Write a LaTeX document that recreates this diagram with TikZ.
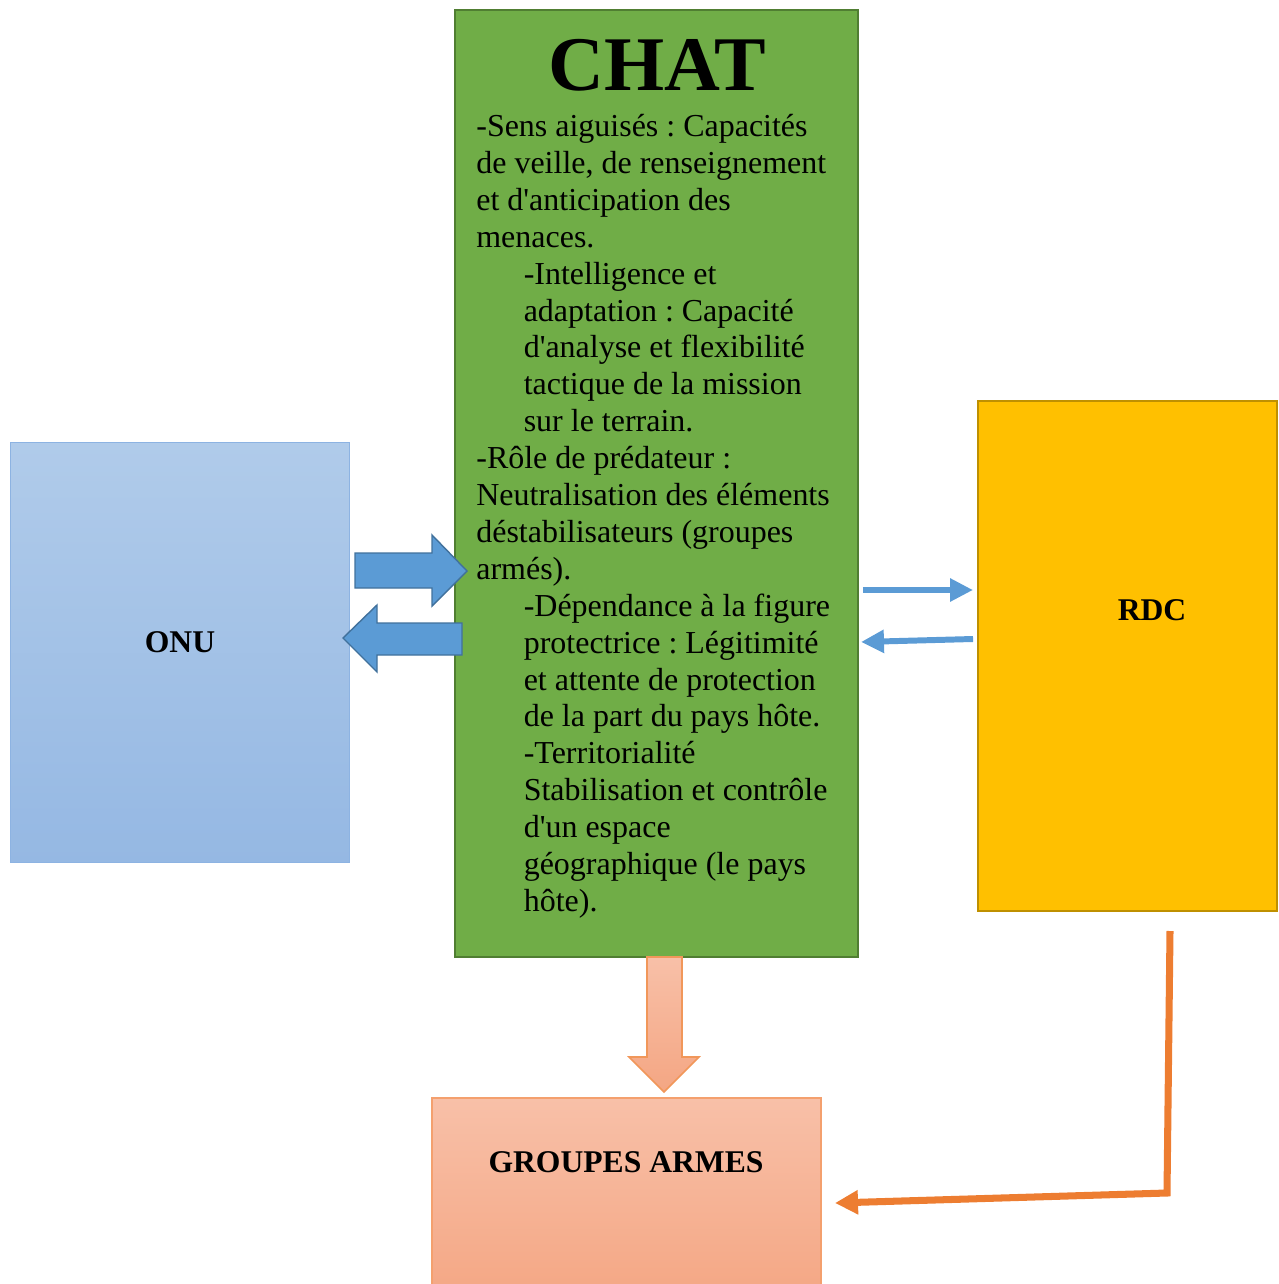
\documentclass[tikz,border=0pt]{standalone}
\usepackage{fontspec}
\setmainfont{Liberation Serif}[Ligatures=TeXOff]
\usetikzlibrary{arrows.meta,positioning}

\definecolor{chatgreen}{RGB}{112,173,71}
\definecolor{chatedge}{RGB}{80,126,50}
\definecolor{onutop}{RGB}{176,203,234}
\definecolor{onubot}{RGB}{149,184,227}
\definecolor{onuedge}{RGB}{141,179,226}
\definecolor{rdcfill}{RGB}{255,192,0}
\definecolor{rdcedge}{RGB}{191,144,0}
\definecolor{gatop}{RGB}{248,192,168}
\definecolor{gabot}{RGB}{244,166,131}
\definecolor{gaedge}{RGB}{244,160,110}
\definecolor{arrowblue}{RGB}{91,155,213}
\definecolor{arrowedge}{RGB}{65,113,156}
\definecolor{linkorange}{RGB}{237,125,49}

\tikzset{
  box/.style={draw, rectangle, inner sep=0pt, outer sep=0pt},
  boxlabel/.style={font=\fontsize{18}{21}\selectfont\bfseries},
  blockarrow/.style={draw=arrowedge, fill=arrowblue, line width=0.8pt, line join=miter},
  thinlink/.style={draw=arrowblue, line width=3.4pt, -{Triangle[length=0.46cm, width=0.44cm]}},
  orangelink/.style={draw=linkorange, line width=4pt, -{Triangle[length=0.46cm, width=0.46cm]}}
}

\begin{document}
\frenchspacing
\begin{tikzpicture}[x=0.02cm, y=-0.02cm]
    \useasboundingbox (0,0) rectangle (1278,1284);

    % boxes
    \node[box, draw=chatedge, fill=chatgreen, line width=1.4pt, minimum width=8.06cm, minimum height=18.94cm] (chat) at (656.5,483.5) {};
    \node[box, draw=onuedge, top color=onutop, bottom color=onubot, line width=0.6pt, minimum width=6.8cm, minimum height=8.42cm] (onu) at (180,652.5) {};
    \node[box, draw=rdcedge, fill=rdcfill, line width=1.2pt, minimum width=5.98cm, minimum height=10.2cm] (rdc) at (1127.5,656) {};
    \node[box, draw=gaedge, top color=gatop, bottom color=gabot, line width=0.9pt, minimum width=7.78cm, minimum height=4.1cm] (ga) at (626.5,1200.5) {};

    % labels
    \node[font=\fontsize{44}{48}\selectfont\bfseries, anchor=base, inner sep=0pt] (title) at (657,91) {CHAT};
    \node[font=\fontsize{18.2}{21}\selectfont, align=left, anchor=north west, inner sep=0pt] (chattext) at (476,114) {%
-Sens aiguisés : Capacités\\
de veille, de renseignement\\
et d'anticipation des\\
menaces.\\
\hspace*{27pt}-Intelligence et\\
\hspace*{27pt}adaptation : Capacité\\
\hspace*{27pt}d'analyse et flexibilité\\
\hspace*{27pt}tactique de la mission\\
\hspace*{27pt}sur le terrain.\\
-Rôle de prédateur :\\
Neutralisation des éléments\\
déstabilisateurs (groupes\\
armés).\\
\hspace*{27pt}-Dépendance à la figure\\
\hspace*{27pt}protectrice : Légitimité\\
\hspace*{27pt}et attente de protection\\
\hspace*{27pt}de la part du pays hôte.\\
\hspace*{27pt}-Territorialité\\
\hspace*{27pt}Stabilisation et contrôle\\
\hspace*{27pt}d'un espace\\
\hspace*{27pt}géographique (le pays\\
\hspace*{27pt}hôte).};
    \node[boxlabel] (onulabel) at (180,642) {ONU};
    \node[boxlabel] (rdclabel) at (1152,610) {RDC};
    \node[boxlabel] (galabel) at (626,1162) {GROUPES ARMES};

    % block arrows between ONU and CHAT
    \draw[blockarrow] (355,553) -- (432,553) -- (432,535) -- (467,571) -- (432,606) -- (432,588) -- (355,588) -- cycle;
    \draw[blockarrow] (462,623) -- (377,623) -- (377,605) -- (343,638) -- (377,672) -- (377,655) -- (462,655) -- cycle;

    % CHAT down to GROUPES ARMES
    \draw[draw=linkorange!80, top color=gatop, bottom color=gabot, line width=0.9pt] (647,957) -- (682,957) -- (682,1057) -- (699,1057) -- (664,1092) -- (629,1057) -- (647,1057) -- cycle;

    % CHAT <-> RDC
    \coordinate (c2r) at (chat.east |- 0,590);
    \coordinate (r2c) at (rdc.west |- 0,639);
    \draw[thinlink] ([xshift=0.1cm]c2r) -- ([xshift=-0.1cm]rdc.west |- c2r);
    \draw[thinlink] ([xshift=-0.1cm]r2c) -- ([xshift=0.06cm]chat.east |- 0,642);

    % RDC down to GROUPES ARMES
    \coordinate (rdcout) at (1170,931);
    \coordinate (rdcbend) at (1167,1193);
    \coordinate (gain) at (835,1203);
    \draw[orangelink] (rdcout) -- (rdcbend) -- (gain);
\end{tikzpicture}
\end{document}
